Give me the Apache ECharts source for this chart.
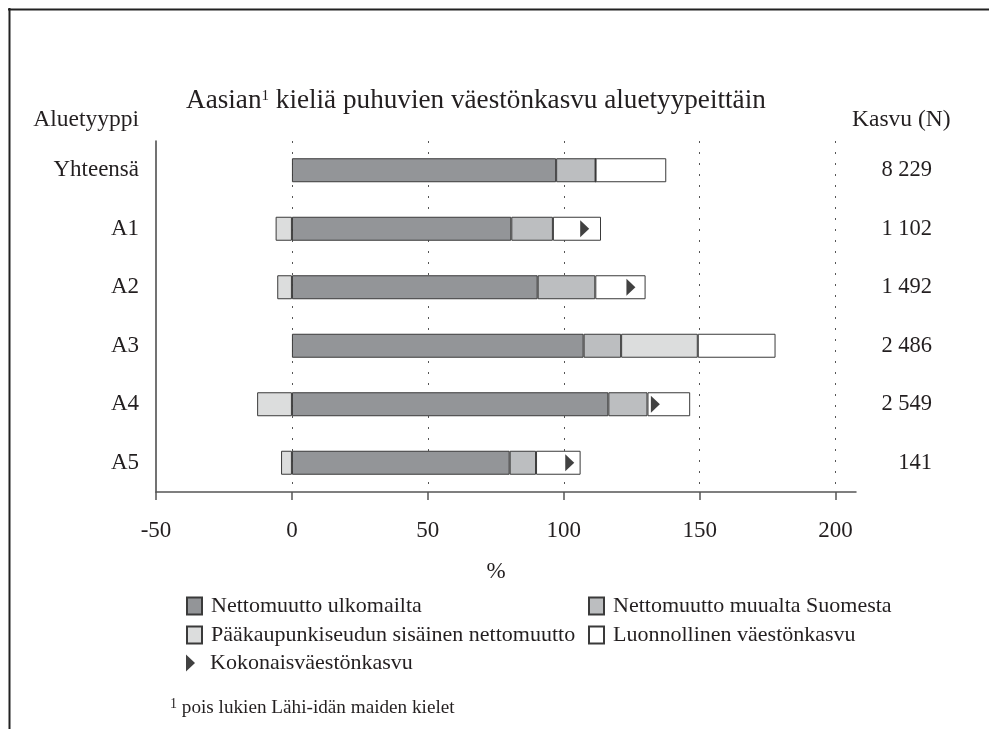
<!DOCTYPE html>
<html>
<head>
<meta charset="utf-8">
<script src="https://cdn.jsdelivr.net/npm/echarts@6/dist/echarts.min.js"></script>
<style>
  html, body { margin: 0; padding: 0; background: #fff; }
  #chart { width: 989px; height: 729px; }
</style>
</head>
<body>
<div id="chart"></div>
<script>
const categories = ['Yhteensä', 'A1', 'A2', 'A3', 'A4', 'A5'];
const growthN = ['8 229', '1 102', '1 492', '2 486', '2 549', '141'];
const abroad = [97.2, 80.7, 90.4, 107.3, 116.4, 80.1];
const domestic = [14.5, 15.3, 21.2, 13.8, 14.4, 9.7];
const capital = [0, -6.0, -5.4, 28.2, -12.8, -4.0];
const natural = [26.0, 17.7, 18.5, 28.6, 15.7, 16.4];
const total = [null, 107.7, 124.7, null, 133.7, 102.2];
const xTicks = [-50, 0, 50, 100, 150, 200];
const gridValues = [0, 50, 100, 150, 200];

const FONT = "'Liberation Serif', 'Times New Roman', serif";
const TXT = '#231f20';
const BORDER = '#3a3a3a';
const TRI = 'path://M0,0L9,8.5L0,17Z';

const chart = echarts.init(document.getElementById('chart'), null, { renderer: 'canvas' });

const barStyle = (color) => ({ color: color, borderColor: BORDER, borderWidth: 1 });
const legendText = { fontFamily: FONT, fontSize: 22, color: TXT, lineHeight: 22, padding: [0, 0, 0, 4] };

const option = {
  backgroundColor: '#fff',
  animation: false,
  textStyle: { fontFamily: FONT, color: TXT },
  title: [
    {
      text: '{t|Aasian}{s|1}{t| kieliä puhuvien väestönkasvu aluetyypeittäin}',
      left: 186, top: 86, padding: 0,
      textStyle: {
        rich: {
          t: { fontFamily: FONT, fontSize: 27.2, fontWeight: 'normal', color: TXT, lineHeight: 30 },
          s: { fontFamily: FONT, fontSize: 15, fontWeight: 'normal', color: TXT, verticalAlign: 'top', lineHeight: 30, padding: [3, 0, 0, 0] }
        }
      }
    },
    {
      text: 'Aluetyyppi', right: 850, top: 108, padding: 0,
      textStyle: { fontFamily: FONT, fontSize: 23.5, fontWeight: 'normal', color: TXT, lineHeight: 24 }
    },
    {
      text: 'Kasvu (N)', left: 852, top: 108, padding: 0,
      textStyle: { fontFamily: FONT, fontSize: 23.5, fontWeight: 'normal', color: TXT, lineHeight: 24 }
    },
    {
      text: '{s|1}{t| pois lukien Lähi-idän maiden kielet}',
      left: 170, top: 697, padding: 0,
      textStyle: {
        rich: {
          t: { fontFamily: FONT, fontSize: 19.2, fontWeight: 'normal', color: TXT, lineHeight: 22 },
          s: { fontFamily: FONT, fontSize: 14, fontWeight: 'normal', color: TXT, verticalAlign: 'top', lineHeight: 22 }
        }
      }
    }
  ],
  legend: [
    {
      left: 186, top: 595, padding: 0, orient: 'vertical', itemWidth: 15, itemHeight: 17, itemGap: 7,
      selectedMode: false,
      data: [{ name: 'Nettomuutto ulkomailta', icon: 'rect' }, { name: 'Pääkaupunkiseudun sisäinen nettomuutto', icon: 'rect' }],
      textStyle: legendText
    },
    {
      left: 588, top: 595, padding: 0, orient: 'vertical', itemWidth: 15, itemHeight: 17, itemGap: 7,
      selectedMode: false,
      data: [{ name: 'Nettomuutto muualta Suomesta', icon: 'rect' }, { name: 'Luonnollinen väestönkasvu', icon: 'rect' }],
      textStyle: legendText
    },
    {
      left: 186, top: 652, padding: 0, orient: 'vertical', itemWidth: 9, itemHeight: 17,
      selectedMode: false,
      data: [{ name: 'Kokonaisväestönkasvu', icon: TRI }],
      textStyle: Object.assign({}, legendText, { padding: [0, 0, 0, 10] })
    }
  ],
  grid: { left: 156, right: 133, top: 141, bottom: 237, containLabel: false },
  xAxis: {
    type: 'value', min: -50, max: 207.5, interval: 50,
    name: '%', nameLocation: 'middle', nameGap: 68,
    nameTextStyle: { fontFamily: FONT, fontSize: 23, color: TXT, padding: [0, 20, 0, 0] },
    axisLine: { show: true, onZero: false, lineStyle: { color: '#555', width: 1.5 } },
    axisTick: { show: true, length: 8, customValues: xTicks, lineStyle: { color: '#555', width: 1.5 } },
    axisLabel: { customValues: xTicks, fontFamily: FONT, fontSize: 23, color: TXT, margin: 27 },
    splitLine: { show: false }
  },
  yAxis: [
    {
      type: 'category', inverse: true, data: categories,
      axisLine: { show: true, onZero: false, lineStyle: { color: '#444', width: 1.5 } },
      axisTick: { show: false },
      axisLabel: { fontFamily: FONT, fontSize: 23, color: TXT, margin: 17 },
      splitLine: { show: false }
    },
    {
      type: 'category', inverse: true, data: growthN, position: 'right',
      axisLine: { show: false, onZero: false }, axisTick: { show: false },
      axisLabel: { fontFamily: FONT, fontSize: 22.5, color: TXT, margin: 76, align: 'right' },
      splitLine: { show: false }
    }
  ],
  series: [
    {
      name: 'Nettomuutto ulkomailta', type: 'bar', stack: 'g', barWidth: '41%',
      data: abroad, itemStyle: barStyle('#939598'),
      markLine: {
        silent: true, symbol: 'none', z: 1, label: { show: false },
        lineStyle: { color: '#555', width: 1, type: [2, 9] },
        emphasis: { disabled: true },
        data: gridValues.map(v => ({ xAxis: v }))
      }
    },
    { name: 'Nettomuutto muualta Suomesta', type: 'bar', stack: 'g', data: domestic, itemStyle: barStyle('#bcbec0') },
    { name: 'Pääkaupunkiseudun sisäinen nettomuutto', type: 'bar', stack: 'g', data: capital, itemStyle: barStyle('#dcdddd') },
    { name: 'Luonnollinen väestönkasvu', type: 'bar', stack: 'g', data: natural, itemStyle: barStyle('#ffffff') },
    {
      name: 'Kokonaisväestönkasvu', type: 'scatter', data: total, z: 5,
      symbol: TRI, symbolSize: [9, 17], itemStyle: { color: '#111' }
    }
  ],
  graphic: [
    { type: 'line', shape: { x1: 8, y1: 9.5, x2: 989, y2: 9.5 }, style: { stroke: '#222', lineWidth: 2 }, silent: true },
    { type: 'line', shape: { x1: 9.5, y1: 8, x2: 9.5, y2: 729 }, style: { stroke: '#222', lineWidth: 2 }, silent: true }
  ]
};

chart.setOption(option);
</script>
</body>
</html>
